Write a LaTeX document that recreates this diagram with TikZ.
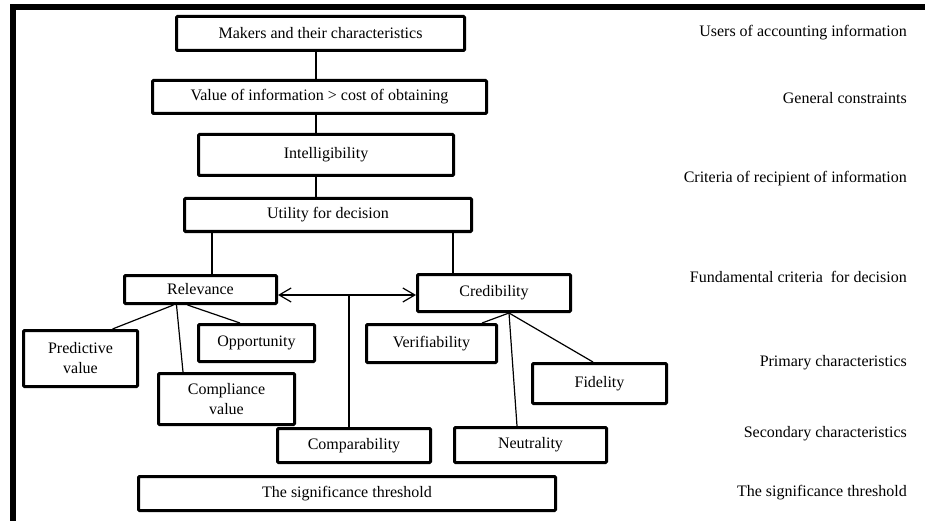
\documentclass[tikz,border=0pt]{standalone}
\usepackage{fontspec}
\setmainfont{Liberation Serif}
\usetikzlibrary{arrows.meta}
\begin{document}
\begin{tikzpicture}[x=1pt, y=-1pt,
  font=\fontsize{16}{20}\selectfont,
  box/.style={draw, line width=3pt, fill=white, inner sep=0pt, align=center, rounded corners=1pt},
  sz/.style 2 args={minimum width=#1pt, minimum height=#2pt},
  link/.style={line width=1.2pt},
  barb/.style={{Straight Barb[length=12pt,width=14pt]}-{Straight Barb[length=12pt,width=14pt]}},
  tag/.style={anchor=east, inner sep=0pt}]
\useasboundingbox (0,0) rectangle (925,521);

% outer frame (top and left rules)
\draw[line width=6pt] (12.5,530) -- (12.5,7) -- (935,7);

% main hierarchy
\node[box, sz={288}{34}] (makers)  at (320.5,33.5) {Makers and their characteristics};
\node[box, sz={334}{33}] (value)   at (319.5,97)   {Value of information > cost of obtaining};
\node[box, sz={255}{41}] (intel)   at (326,155)    {Intelligibility};
\node[box, sz={287}{33}] (utility) at (328,215)    {Utility for decision};

\node[box, sz={152}{28}] (relevance)   at (200.5,289.5) {Relevance};
\node[box, sz={153}{37}] (credibility) at (494,293)     {Credibility};

\node[box, sz={114}{56}] (predictive)  at (80.5,358.5)  {Predictive\\value};
\node[box, sz={116}{37}] (opportunity) at (256.5,343)   {Opportunity};
\node[box, sz={136}{51}] (compliance)  at (226.5,399)   {Compliance\\value};

\node[box, sz={130}{38}] (verif)      at (431.5,343.5) {Verifiability};
\node[box, sz={134}{40}] (fidelity)   at (599.5,383.5) {Fidelity};
\node[box, sz={153}{34}] (comparab)   at (354,445.5)   {Comparability};
\node[box, sz={152}{35}] (neutrality) at (530.5,445)   {Neutrality};

\node[box, sz={417}{34}] (threshold)  at (347,493.5)   {The significance threshold};

% reference points for the connectors
\coordinate (spine) at (316,0);
\coordinate (lbranch) at (212,0);
\coordinate (rbranch) at (453,0);
\coordinate (junc) at (349,295);

% vertical spine
\draw[link] (makers.south -| spine) -- (value.north -| spine);
\draw[link] (value.south -| spine) -- (intel.north -| spine);
\draw[link] (intel.south -| spine) -- (utility.north -| spine);

% split into the two fundamental criteria
\draw[link] (utility.south -| lbranch) -- (relevance.north -| lbranch);
\draw[link] (utility.south -| rbranch) -- (credibility.north -| rbranch);

% relevance components
\draw[link] ([xshift=-27pt]relevance.south) -- ([xshift=32pt]predictive.north);
\draw[link] ([xshift=-24pt]relevance.south) -- ([xshift=-43.5pt]compliance.north);
\draw[link] ([xshift=-13pt]relevance.south) -- ([xshift=-16.5pt]opportunity.north);

% credibility components
\draw[link] ([xshift=15pt]credibility.south) -- ([xshift=50.5pt]verif.north);
\draw[link] ([xshift=15pt]credibility.south) -- ([xshift=-13.5pt]neutrality.north);
\draw[link] ([xshift=15pt]credibility.south) -- ([xshift=-6.5pt]fidelity.north);

% comparability links both criteria
\draw[link, barb] (relevance.east |- junc) -- (credibility.west |- junc);
\draw[link] (junc) -- (comparab.north -| junc);

% level labels
\node[tag] (lvl1) at (907,33)  {Users of accounting information};
\node[tag] (lvl2) at (907,98)  {General constraints};
\node[tag] (lvl3) at (907,179) {Criteria of recipient of information};
\node[tag] (lvl4) at (907,277) {Fundamental criteria\ \ for decision};
\node[tag] (lvl5) at (907,363) {Primary characteristics};
\node[tag] (lvl6) at (907,434) {Secondary characteristics};
\node[tag] (lvl7) at (907,493) {The significance threshold};
\end{tikzpicture}
\end{document}
